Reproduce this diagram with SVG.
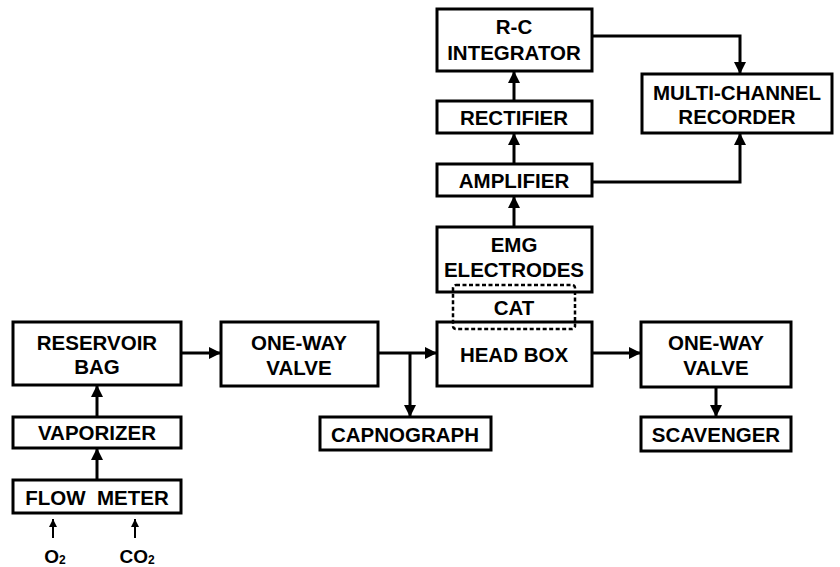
<svg xmlns="http://www.w3.org/2000/svg" width="840" height="567" viewBox="0 0 840 567">
<defs>
<style>
.box{fill:#fff;stroke:#000;stroke-width:3}
.cat{fill:none;stroke:#000;stroke-width:2.5;stroke-dasharray:4 2.5}
.t{font-family:"Liberation Sans",Arial,sans-serif;font-weight:bold;font-size:20.5px;fill:#000;text-anchor:middle}
.c{fill:none;stroke:#000;stroke-width:3}
.thin{fill:none;stroke:#000;stroke-width:2}
</style>
<marker id="ah" viewBox="0 0 10 10" refX="10" refY="5" markerWidth="15" markerHeight="12" markerUnits="userSpaceOnUse" orient="auto">
<path d="M0,0 L10,5 L0,10 z" fill="#000"/>
</marker>
<marker id="sah" viewBox="0 0 10 10" refX="10" refY="5" markerWidth="9" markerHeight="8" markerUnits="userSpaceOnUse" orient="auto">
<path d="M0,0 L10,5 L0,10 z" fill="#000"/>
</marker>
</defs>
<rect width="840" height="567" fill="#fff"/>
<g id="connectors">
<path class="c" d="M514,101 V71" marker-end="url(#ah)"/>
<path class="c" d="M514,164 V133" marker-end="url(#ah)"/>
<path class="c" d="M514,227 V196" marker-end="url(#ah)"/>
<path class="c" d="M592,36 H740 V74" marker-end="url(#ah)"/>
<path class="c" d="M592,182 H740 V133" marker-end="url(#ah)"/>
<path class="c" d="M181,353 H221" marker-end="url(#ah)"/>
<path class="c" d="M378,353 H437" marker-end="url(#ah)"/>
<path class="c" d="M410,353 V417" marker-end="url(#ah)"/>
<path class="c" d="M592,353 H641" marker-end="url(#ah)"/>
<path class="c" d="M716,387 V417" marker-end="url(#ah)"/>
<path class="c" d="M97,417 V385" marker-end="url(#ah)"/>
<path class="c" d="M97,480 V448" marker-end="url(#ah)"/>
<path class="thin" d="M53,538 V519" marker-end="url(#sah)"/>
<path class="thin" d="M135,538 V519" marker-end="url(#sah)"/>
</g>
<g id="rc-integrator"><rect class="box" x="437" y="9" width="155" height="62"/><text class="t" x="514" y="34">R-C</text><text class="t" x="514" y="60">INTEGRATOR</text></g>
<g id="rectifier"><rect class="box" x="437" y="101" width="155" height="32"/><text class="t" x="514" y="125">RECTIFIER</text></g>
<g id="amplifier"><rect class="box" x="437" y="164" width="155" height="32"/><text class="t" x="514" y="188">AMPLIFIER</text></g>
<g id="recorder"><rect class="box" x="642" y="74" width="190" height="59"/><text class="t" x="737" y="100">MULTI-CHANNEL</text><text class="t" x="737" y="124">RECORDER</text></g>
<g id="emg"><rect class="box" x="437" y="227" width="155" height="65"/><text class="t" x="514" y="252">EMG</text><text class="t" x="514" y="277">ELECTRODES</text></g>
<g id="headbox"><rect class="box" x="437" y="322" width="155" height="64"/><text class="t" x="514" y="362">HEAD BOX</text></g>
<g id="cat"><rect class="cat" x="453" y="285" width="122" height="44" rx="3"/><text class="t" x="514" y="315">CAT</text></g>
<g id="valve-out"><rect class="box" x="641" y="322" width="150" height="65"/><text class="t" x="716" y="350">ONE-WAY</text><text class="t" x="716" y="375">VALVE</text></g>
<g id="scavenger"><rect class="box" x="641" y="417" width="150" height="34"/><text class="t" x="716" y="442">SCAVENGER</text></g>
<g id="valve-in"><rect class="box" x="221" y="322" width="157" height="64"/><text class="t" x="299" y="350">ONE-WAY</text><text class="t" x="299" y="375">VALVE</text></g>
<g id="capnograph"><rect class="box" x="320" y="417" width="171" height="33"/><text class="t" x="405" y="442">CAPNOGRAPH</text></g>
<g id="reservoir"><rect class="box" x="13" y="322" width="168" height="63"/><text class="t" x="97" y="350">RESERVOIR</text><text class="t" x="97" y="374">BAG</text></g>
<g id="vaporizer"><rect class="box" x="13" y="417" width="168" height="31"/><text class="t" x="97" y="440">VAPORIZER</text></g>
<g id="flowmeter"><rect class="box" x="13" y="480" width="168" height="33"/><text class="t" x="97" y="505" xml:space="preserve">FLOW  METER</text></g>
<g id="o2"><text class="t" x="55" y="563" style="font-size:19px">O<tspan style="font-size:12px" dy="1">2</tspan></text></g>
<g id="co2"><text class="t" x="137" y="563" style="font-size:19px">CO<tspan style="font-size:12px" dy="1">2</tspan></text></g>
</svg>
